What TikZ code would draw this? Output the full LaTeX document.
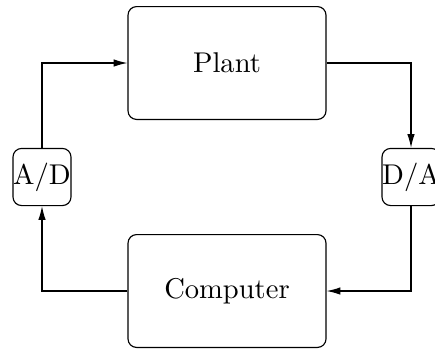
\documentclass[tikz,border=0pt]{standalone}
\usepackage{tikz}
\usetikzlibrary{arrows.meta,positioning}

\tikzset{
  bigbox/.style={draw,rounded corners=3pt,minimum width=69.3pt,minimum height=39.5pt},
  convbox/.style={draw,rounded corners=3pt,inner sep=0pt,minimum width=20.3pt,minimum height=20pt},
}

\begin{document}
\begin{tikzpicture}[x=0.35pt,y=0.35pt,>={Latex[length=4.8pt,width=2.6pt]}]
  \useasboundingbox (0,0) rectangle (435,348);
  \node[bigbox] (plant) at (227,285) {Plant};
  \node[bigbox] (computer) at (227,57) {Computer};
  \node[convbox] (ad) at (42,171) {A/D};
  \node[convbox] (da) at (411,171) {D/A};
  % loop
  \draw[->] (ad.north) |- (plant.west);
  \draw[->] (plant.east) -| (da.north);
  \draw[->] (da.south) |- (computer.east);
  \draw[->] (computer.west) -| (ad.south);
\end{tikzpicture}
\end{document}
